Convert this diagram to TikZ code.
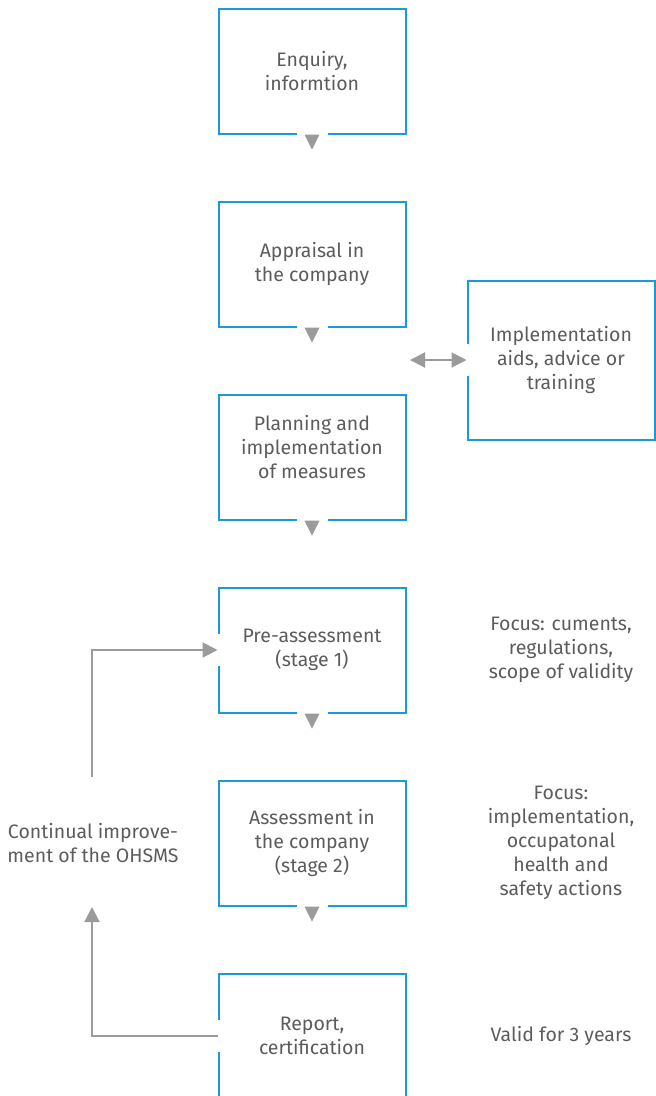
\documentclass[tikz,border=0pt]{standalone}
\usepackage{fontspec}
\setmainfont{Fira Sans}
\usetikzlibrary{positioning, calc, arrows.meta}
\definecolor{boxblue}{HTML}{1B9AD6}
\definecolor{arrgray}{HTML}{9B9B9B}
\definecolor{txtgray}{HTML}{5C5C5C}
\tikzstyle{box} = [draw=boxblue, line width=2pt, rectangle,
    minimum height=125pt, minimum width=187pt,
    align=center, text=txtgray, font=\fontsize{19.5}{24}\selectfont]
\tikzstyle{note} = [align=center, text=txtgray,
    font=\fontsize{19.5}{24}\selectfont]
\tikzstyle{arr} = [draw=arrgray, line width=2pt]
\tikzset{ftip/.tip={Triangle[length=15pt, width=15pt]}}

\begin{document}
\begin{tikzpicture}[x=1pt, y=-1pt, node distance=193pt]
    \useasboundingbox (0,0) rectangle (656,1096);

        \node[box] (enq) at (312,71) {Enquiry,\\informtion};

        \node[
            box,
            below of=enq
        ](appr){Appraisal in\\the company};

        \node[
            box,
            below of=appr,
            label={[note, yshift=10pt]center:{Planning and\\implementation\\of measures}}
        ](plan){};

        \node[
            box,
            below of=plan
        ](pre){Pre-assessment\\(stage 1)};

        \node[
            box,
            below of=pre
        ](ass){Assessment in\\the company\\(stage 2)};

        \node[
            box,
            below of=ass
        ](rep){Report,\\certification};

        \node[box, minimum height=159pt] (aids) at (561,360)
            {Implementation\\aids, advice or\\training};

        \node[note, right of=pre, node distance=249pt](foc1)
            {Focus: cuments,\\regulations,\\scope of validity};
        \node[note, right of=ass, node distance=249pt](foc2)
            {Focus:\\implementation,\\occupatonal\\health and\\safety actions};
        \node[note, right of=rep, node distance=249pt](valid){Valid for 3 years};
        \node[note] (loop) at (93,843) {Continual improve-\\ment of the OHSMS};

        % gaps in the frames and the down marks
        \foreach \n in {enq, appr, plan, pre, ass} {
            \fill[white] ($(\n.south)+(-15,-3)$) rectangle ($(\n.south)+(16,3)$);
            \fill[arrgray] ($(\n.south)+(-7.5,0)$) -- ($(\n.south)+(7.5,0)$)
                -- ($(\n.south)+(0,15)$) -- cycle;
        }
        \foreach \n in {aids, pre, rep}
            \fill[white] ($(\n.west)+(-3,-16)$) rectangle ($(\n.west)+(3,16)$);

        \coordinate (dbl) at (410,360);
        \coordinate (upend) at (92,907);
        \coordinate (lostart) at (92,777);

        \draw[arr, ftip-ftip] (dbl) -- (aids.west);
        \draw[arr, -ftip] (rep.west) -| (upend);
        \draw[arr, -ftip] (lostart) |- (pre.west);
    \end{tikzpicture}
\end{document}
